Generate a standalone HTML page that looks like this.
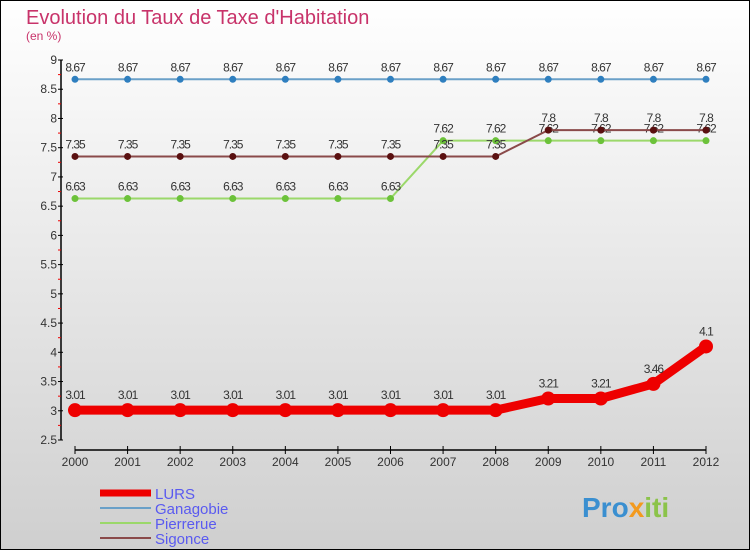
<!DOCTYPE html>
<html><head><meta charset="utf-8"><style>
body{margin:0}
svg text{font-family:"Liberation Sans",sans-serif}
</style></head><body>
<svg id="c" width="750" height="550" xmlns="http://www.w3.org/2000/svg">
<defs><linearGradient id="bg" x1="0" y1="0" x2="0" y2="1"><stop offset="0" stop-color="#ffffff"/><stop offset="1" stop-color="#cfcfcf"/></linearGradient></defs>
<rect x="0.5" y="0.5" width="749" height="549" fill="url(#bg)" stroke="#000"/>
<text x="26" y="24" font-size="20" fill="#c8336a">Evolution du Taux de Taxe d'Habitation</text>
<text x="26" y="40" font-size="12" fill="#c8336a">(en %)</text>
<g id="axes"></g><g id="series"></g><g id="legend"></g>
<text x="582" y="517" font-size="28" font-weight="bold" fill="#3a8fd0">Pro<tspan fill="#f39a1e">x</tspan><tspan fill="#8bc34a">iti</tspan></text>
</svg>
<script>
const years=[2000,2001,2002,2003,2004,2005,2006,2007,2008,2009,2010,2011,2012];
const lurs=[3.01,3.01,3.01,3.01,3.01,3.01,3.01,3.01,3.01,3.21,3.21,3.46,4.1];
const ganagobie=[8.67,8.67,8.67,8.67,8.67,8.67,8.67,8.67,8.67,8.67,8.67,8.67,8.67];
const pierrerue=[6.63,6.63,6.63,6.63,6.63,6.63,6.63,7.62,7.62,7.62,7.62,7.62,7.62];
const sigonce=[7.35,7.35,7.35,7.35,7.35,7.35,7.35,7.35,7.35,7.8,7.8,7.8,7.8];
const yTicks=[2.5,3,3.5,4,4.5,5,5.5,6,6.5,7,7.5,8,8.5,9];
const NS="http://www.w3.org/2000/svg";
const x=i=>75+i*(706-75)/(years.length-1);
const y=v=>440-(v-2.5)*380/6.5;
function el(t,a,p){const e=document.createElementNS(NS,t);for(const k in a)e.setAttribute(k,a[k]);p.appendChild(e);return e;}
const ax=document.getElementById('axes');
let e=el('line',{x1:61,y1:60,x2:61,y2:440,stroke:'#000','stroke-width':1.5},ax);


e=el('line',{x1:75,y1:450,x2:706,y2:450,stroke:'#000','stroke-width':1.5},ax);


yTicks.forEach((t,i)=>{
 el('line',{x1:58,x2:63,y1:y(t),y2:y(t),stroke:'#000'},ax);
 if(i<yTicks.length-1)el('line',{x1:58,x2:61,y1:y(t+0.25),y2:y(t+0.25),stroke:'#e00'},ax);
 const tx=el('text',{x:57,y:y(t)+4,'text-anchor':'end','font-size':12,fill:'#333'},ax);tx.textContent=t;
 
 
});
years.forEach((yr,i)=>{
 el('line',{x1:x(i),x2:x(i),y1:446,y2:454,stroke:'#000'},ax);
 const tx=el('text',{x:x(i),y:466,'text-anchor':'middle','font-size':12,fill:'#333'},ax);tx.textContent=yr;
 
 
});
const sg=document.getElementById('series');
const series=[
 {n:'ganagobie',d:ganagobie,c:'#6aa0c8',dot:'#2f7fbf',w:2,r:3.5},
 {n:'pierrerue',d:pierrerue,c:'#9bd86a',dot:'#6cc23a',w:2,r:3.5},
 {n:'sigonce',d:sigonce,c:'#8a4a4a',dot:'#5a1010',w:2,r:3.5},
 {n:'lurs',d:lurs,c:'#ee0000',dot:'#ee0000',w:9,r:7}];
series.forEach(s=>{
 const p=el('polyline',{points:s.d.map((v,i)=>x(i)+','+y(v)).join(' '),fill:'none',stroke:s.c,'stroke-width':s.w},sg);
 
 
 s.d.forEach((v,i)=>{
  const c=el('circle',{cx:x(i),cy:y(v),r:s.r,fill:s.dot},sg);
  
  
  const t=el('text',{x:x(i),y:y(v)-8-(s.n==='lurs'?3:0),'text-anchor':'middle','font-size':12,fill:'#333','letter-spacing':'-1'},sg);
  t.textContent=v;
  
  
 });
});
const lg=document.getElementById('legend');
const leg=[['LURS','#ee0000',7],['Ganagobie','#6aa0c8',2],['Pierrerue','#9bd86a',2],['Sigonce','#8a4a4a',2]];
leg.forEach((l,i)=>{
 const yy=493+i*15;
 const ln=el('line',{x1:100,x2:151,y1:yy,y2:yy,stroke:l[1],'stroke-width':l[2]},lg);
 
 
 const t=el('text',{x:155,y:yy+6,'font-size':15,fill:'#5a5af0'},lg);t.textContent=l[0];
 
 
});
</script>
</body></html>
